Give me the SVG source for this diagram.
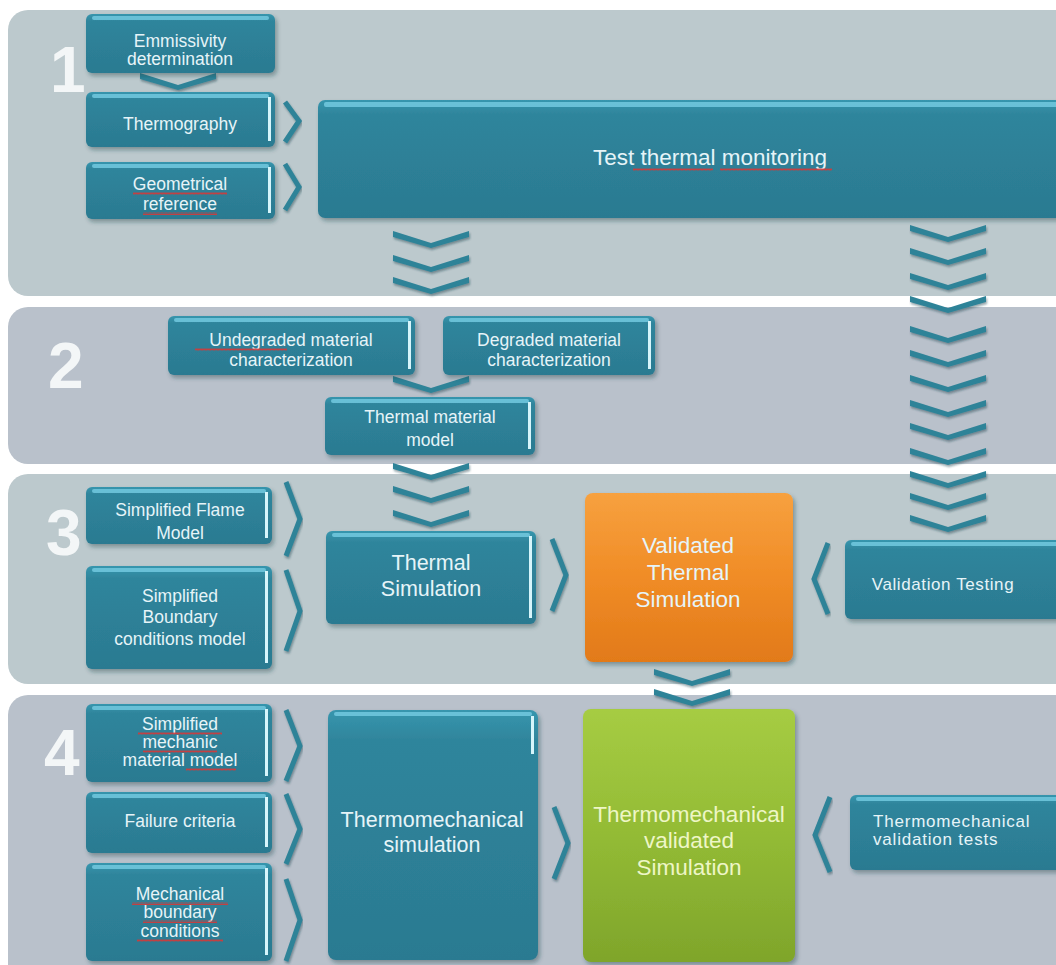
<svg xmlns="http://www.w3.org/2000/svg" width="1056" height="965" viewBox="0 0 1056 965">
<style>
  .band1 { fill: #bcc9cd; }
  .band2 { fill: #b9c1cb; }
  .num { font-family: "Liberation Sans", Arial, sans-serif; font-weight: bold; font-size: 64px; fill: #f3f6f7; }
  .box { fill: url(#teal); filter: url(#shadow); }
  .top { fill: #72c9df; opacity: 0.85; }
  .edge { fill: #d6f5fb; }
  .t { font-family: "Liberation Sans", Arial, sans-serif; font-size: 17.5px; fill: #e6f4f8; text-anchor: middle; }
  .tl { font-family: "Liberation Sans", Arial, sans-serif; font-size: 17px; letter-spacing: 0.8px; fill: #e6f4f8; }
  .big { font-size: 21.5px; }
  .xl { font-size: 22.5px; }
  .g { fill: #eef6c6; }
  .chev { fill: #2f8398; filter: url(#cshadow); }
  .arr { fill: none; stroke: #2f8398; stroke-width: 5; stroke-linejoin: miter; filter: url(#cshadow); }
  .sq { fill: url(#squig); }
</style>
<defs>
  <linearGradient id="teal" x1="0" y1="0" x2="0" y2="1">
    <stop offset="0" stop-color="#3796ae"/>
    <stop offset="0.12" stop-color="#2f859c"/>
    <stop offset="1" stop-color="#2b7a91"/>
  </linearGradient>
  <linearGradient id="orange" x1="0" y1="0" x2="0" y2="1">
    <stop offset="0" stop-color="#f7a13f"/>
    <stop offset="0.5" stop-color="#f08c26"/>
    <stop offset="1" stop-color="#e27a19"/>
  </linearGradient>
  <linearGradient id="green" x1="0" y1="0" x2="0" y2="1">
    <stop offset="0" stop-color="#a6cc43"/>
    <stop offset="0.5" stop-color="#93bb35"/>
    <stop offset="1" stop-color="#7fa52b"/>
  </linearGradient>
  <filter id="shadow" x="-10%" y="-10%" width="130%" height="130%">
    <feDropShadow dx="2" dy="3" stdDeviation="2" flood-color="#1d3c46" flood-opacity="0.4"/>
  </filter>
  <filter id="cshadow" x="-20%" y="-40%" width="140%" height="200%">
    <feDropShadow dx="1" dy="2" stdDeviation="1.2" flood-color="#1d3c46" flood-opacity="0.45"/>
  </filter>
  <pattern id="squig" width="4" height="3" patternUnits="userSpaceOnUse">
    <path d="M0,2.5 L1,0.5 L2,2.5 L3,0.5 L4,2.5" fill="none" stroke="#d33a3a" stroke-width="0.9"/>
  </pattern>
  <polygon id="dch" points="-38,-17 0,-5 38,-17 38,-11 0,0 -38,-11"/>
</defs>

<rect width="1056" height="965" fill="#ffffff"/>

<g id="bands">
  <rect class="band1" x="8" y="10" width="1080" height="286" rx="20"/>
  <rect class="band2" x="8" y="307" width="1080" height="157" rx="20"/>
  <rect class="band1" x="8" y="474" width="1080" height="210" rx="20"/>
  <rect class="band2" x="8" y="695" width="1080" height="300" rx="20"/>
  <text class="num" x="50" y="92">1</text>
  <text class="num" x="48" y="388">2</text>
  <text class="num" x="46" y="555">3</text>
  <text class="num" x="44" y="775">4</text>
</g>

<g id="connectors">
  <use href="#dch" class="chev" x="178" y="90"/>
  <use href="#dch" class="chev" x="431" y="248"/>
  <use href="#dch" class="chev" x="431" y="272"/>
  <use href="#dch" class="chev" x="431" y="294"/>
  <use href="#dch" class="chev" x="431" y="393"/>
  <use href="#dch" class="chev" x="431" y="480"/>
  <use href="#dch" class="chev" x="431" y="503"/>
  <use href="#dch" class="chev" x="431" y="527"/>
  <use href="#dch" class="chev" x="948" y="242"/>
  <use href="#dch" class="chev" x="948" y="265"/>
  <use href="#dch" class="chev" x="948" y="290"/>
  <use href="#dch" class="chev" x="948" y="313"/>
  <use href="#dch" class="chev" x="948" y="343"/>
  <use href="#dch" class="chev" x="948" y="367"/>
  <use href="#dch" class="chev" x="948" y="392"/>
  <use href="#dch" class="chev" x="948" y="417"/>
  <use href="#dch" class="chev" x="948" y="440"/>
  <use href="#dch" class="chev" x="948" y="465"/>
  <use href="#dch" class="chev" x="948" y="488"/>
  <use href="#dch" class="chev" x="948" y="510"/>
  <use href="#dch" class="chev" x="948" y="532"/>
  <use href="#dch" class="chev" x="692" y="686"/>
  <use href="#dch" class="chev" x="692" y="706"/>
  <polyline class="arr" points="285,102 299,121 285,142"/>
  <polyline class="arr" points="285,164 299,187 285,210"/>
  <polyline class="arr" points="286,482 300,519 286,556"/>
  <polyline class="arr" points="286,570 300,611 286,651"/>
  <polyline class="arr" points="552,539 566,575 552,611"/>
  <polyline class="arr" points="828,543 814,579 828,614"/>
  <polyline class="arr" points="286,710 300,746 286,781"/>
  <polyline class="arr" points="286,794 300,829 286,864"/>
  <polyline class="arr" points="286,879 300,920 286,961"/>
  <polyline class="arr" points="554,807 568,843 554,879"/>
  <polyline class="arr" points="830,797 815,835 830,872"/>
</g>

<g id="emmissivity">
  <rect class="box" x="86" y="14" width="189" height="59" rx="6"/>
  <rect class="top" x="92" y="16" width="177" height="4" rx="2"/>
  <text class="t" x="180" y="47">Emmissivity</text>
  <text class="t" x="180" y="65">determination</text>
</g>
<g id="thermography">
  <rect class="box" x="86" y="92" width="189" height="55" rx="6"/>
  <rect class="top" x="92" y="94" width="177" height="4" rx="2"/>
  <rect class="edge" x="268" y="97" width="3" height="44"/>
  <text class="t" x="180" y="130">Thermography</text>
</g>
<g id="geometrical">
  <rect class="box" x="86" y="162" width="189" height="57" rx="6"/>
  <rect class="top" x="92" y="164" width="177" height="4" rx="2"/>
  <rect class="edge" x="268" y="167" width="3" height="46"/>
  <text class="t" x="180" y="190">Geometrical</text>
  <text class="t" x="180" y="210">reference</text>
  <rect class="sq" x="133" y="192" width="94" height="3"/>
  <rect class="sq" x="143" y="212" width="74" height="3"/>
</g>
<g id="test-thermal-monitoring">
  <rect class="box" x="318" y="100" width="760" height="118" rx="7"/>
  <rect class="top" x="324" y="102" width="740" height="5" rx="2"/>
  <text class="t xl" x="710" y="165">Test thermal monitoring</text>
  <rect class="sq" x="633" y="168" width="80" height="3"/>
  <rect class="sq" x="720" y="168" width="112" height="3"/>
</g>

<g id="undegraded">
  <rect class="box" x="168" y="316" width="247" height="59" rx="6"/>
  <rect class="top" x="174" y="318" width="235" height="4" rx="2"/>
  <rect class="edge" x="408" y="321" width="3" height="48"/>
  <text class="t" x="291" y="346">Undegraded material</text>
  <text class="t" x="291" y="366">characterization</text>
  <rect class="sq" x="195" y="348" width="92" height="3"/>
</g>
<g id="degraded">
  <rect class="box" x="443" y="316" width="212" height="59" rx="6"/>
  <rect class="top" x="449" y="318" width="200" height="4" rx="2"/>
  <rect class="edge" x="648" y="321" width="3" height="48"/>
  <text class="t" x="549" y="346">Degraded material</text>
  <text class="t" x="549" y="366">characterization</text>
</g>
<g id="thermal-material-model">
  <rect class="box" x="325" y="397" width="210" height="58" rx="6"/>
  <rect class="top" x="331" y="399" width="198" height="4" rx="2"/>
  <rect class="edge" x="528" y="402" width="3" height="47"/>
  <text class="t" x="430" y="423">Thermal material</text>
  <text class="t" x="430" y="446">model</text>
</g>

<g id="simplified-flame-model">
  <rect class="box" x="86" y="487" width="186" height="57" rx="6"/>
  <rect class="top" x="92" y="489" width="174" height="4" rx="2"/>
  <rect class="edge" x="265" y="492" width="3" height="46"/>
  <text class="t" x="180" y="516">Simplified Flame</text>
  <text class="t" x="180" y="539">Model</text>
</g>
<g id="simplified-boundary">
  <rect class="box" x="86" y="566" width="186" height="103" rx="6"/>
  <rect class="top" x="92" y="568" width="174" height="4" rx="2"/>
  <rect class="edge" x="265" y="571" width="3" height="92"/>
  <text class="t" x="180" y="602">Simplified</text>
  <text class="t" x="180" y="623">Boundary</text>
  <text class="t" x="180" y="645">conditions model</text>
</g>
<g id="thermal-simulation">
  <rect class="box" x="326" y="531" width="210" height="93" rx="6"/>
  <rect class="top" x="332" y="533" width="198" height="4" rx="2"/>
  <rect class="edge" x="529" y="536" width="3" height="82"/>
  <text class="t big" x="431" y="570">Thermal</text>
  <text class="t big" x="431" y="596">Simulation</text>
</g>
<g id="validated-thermal-simulation">
  <rect x="585" y="493" width="208" height="169" rx="8" fill="url(#orange)" filter="url(#shadow)"/>
  <text class="t xl" x="688" y="553">Validated</text>
  <text class="t xl" x="688" y="580">Thermal</text>
  <text class="t xl" x="688" y="607">Simulation</text>
</g>
<g id="validation-testing">
  <rect class="box" x="845" y="540" width="230" height="79" rx="6"/>
  <rect class="top" x="851" y="542" width="210" height="4" rx="2"/>
  <text class="t" x="943" y="590" style="font-size:17px;letter-spacing:0.6px">Validation Testing</text>
</g>

<g id="simplified-mechanic">
  <rect class="box" x="86" y="704" width="186" height="78" rx="6"/>
  <rect class="top" x="92" y="706" width="174" height="4" rx="2"/>
  <rect class="edge" x="265" y="709" width="3" height="67"/>
  <text class="t" x="180" y="730">Simplified</text>
  <text class="t" x="180" y="748">mechanic</text>
  <text class="t" x="180" y="766">material model</text>
  <rect class="sq" x="138" y="732" width="84" height="3"/>
  <rect class="sq" x="143" y="750" width="74" height="3"/>
  <rect class="sq" x="186" y="768" width="50" height="3"/>
</g>
<g id="failure-criteria">
  <rect class="box" x="86" y="792" width="186" height="61" rx="6"/>
  <rect class="top" x="92" y="794" width="174" height="4" rx="2"/>
  <rect class="edge" x="265" y="797" width="3" height="50"/>
  <text class="t" x="180" y="827">Failure criteria</text>
</g>
<g id="mechanical-boundary">
  <rect class="box" x="86" y="863" width="186" height="98" rx="6"/>
  <rect class="top" x="92" y="865" width="174" height="4" rx="2"/>
  <rect class="edge" x="265" y="868" width="3" height="87"/>
  <text class="t" x="180" y="900">Mechanical</text>
  <text class="t" x="180" y="918">boundary</text>
  <text class="t" x="180" y="937">conditions</text>
  <rect class="sq" x="132" y="902" width="96" height="3"/>
  <rect class="sq" x="143" y="920" width="74" height="3"/>
  <rect class="sq" x="137" y="939" width="86" height="3"/>
</g>
<g id="thermomechanical-simulation">
  <rect class="box" x="328" y="710" width="210" height="250" rx="8"/>
  <rect class="top" x="334" y="712" width="198" height="4" rx="2"/>
  <rect class="edge" x="531" y="716" width="3" height="38"/>
  <text class="t big" x="432" y="827">Thermomechanical</text>
  <text class="t big" x="432" y="852">simulation</text>
</g>
<g id="thermomechanical-validated-simulation">
  <rect x="583" y="709" width="212" height="253" rx="8" fill="url(#green)" filter="url(#shadow)"/>
  <text class="t g" x="689" y="822" style="font-size:22.5px">Thermomechanical</text>
  <text class="t g" x="689" y="848" style="font-size:22.5px">validated</text>
  <text class="t g" x="689" y="875" style="font-size:22.5px">Simulation</text>
</g>
<g id="thermomechanical-validation-tests">
  <rect class="box" x="850" y="795" width="225" height="75" rx="6"/>
  <rect class="top" x="856" y="797" width="205" height="4" rx="2"/>
  <text class="tl" x="873" y="827">Thermomechanical</text>
  <text class="tl" x="873" y="845">validation tests</text>
</g>
</svg>
